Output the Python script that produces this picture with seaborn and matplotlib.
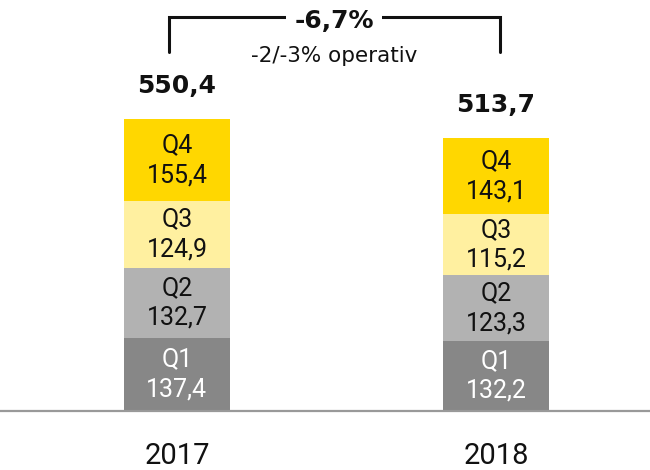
import numpy as np
import pandas as pd
import seaborn as sns
import matplotlib.pyplot as plt

# Data
years = ["2017", "2018"]
quarters = ["Q1", "Q2", "Q3", "Q4"]
q1 = [137.4, 132.2]
q2 = [132.7, 123.3]
q3 = [124.9, 115.2]
q4 = [155.4, 143.1]
totals = [550.4, 513.7]
change_note = "-2/-3% operativ"

colors = ["#878787", "#b2b2b2", "#fff0a0", "#ffd700"]
text_colors = ["white", "#111111", "#111111", "#111111"]

sns.set_theme(style="white")
plt.rcParams["font.family"] = ["Roboto", "DejaVu Sans"]
wide = ["DejaVu Sans"]

fig = plt.figure(figsize=(6.5, 4.7), dpi=100)
ax = fig.add_axes([0, 59 / 470, 1, 411 / 470])

def fmt(v):
    return f"{v:.1f}".replace(".", ",")

series = [q1, q2, q3, q4]
bottom = np.zeros(len(years))
for i, (q, vals) in enumerate(zip(quarters, series)):
    df = pd.DataFrame({"year": years, "value": vals})
    sns.barplot(data=df, x="year", y="value", color=colors[i], width=0.33,
                bottom=bottom, saturation=1, ax=ax, linewidth=0, errorbar=None)
    for j, v in enumerate(vals):
        ax.text(j, bottom[j] + v / 2, f"{q}\n{fmt(v)}", ha="center", va="center",
                fontsize=18, color=text_colors[i], linespacing=1.32)
    bottom = bottom + np.array(vals)

# totals above bars
for j, t in enumerate(totals):
    ax.annotate(fmt(t), xy=(j, t), xytext=(0, 19), textcoords="offset points",
                ha="center", va="baseline", fontsize=18, fontweight="bold",
                color="#111111", family=wide)

# bracket with change
pct = (totals[1] / totals[0] - 1) * 100
y_top = 742
y_low = 677
xl, xr = -0.025, 1.012
ax.plot([xl, xl, xr, xr], [y_low, y_top, y_top, y_low], color="#111111", lw=2.2,
        solid_joinstyle="miter", clip_on=False)
xm = (xl + xr) / 2
ax.text(xm, 722, fmt(pct) + "%", ha="center", va="baseline", fontsize=18,
        fontweight="bold", color="#111111", family=wide,
        bbox=dict(facecolor="white", edgecolor="none", pad=6))
ax.text(xm, 658, change_note, ha="center", va="baseline", fontsize=15.5,
        color="#111111", family=wide)

ax.set_xlim(-177 / 319, 1 + 154 / 319)
ax.set_ylim(0, 411 / 0.5305)
ax.set_xlabel("")
ax.set_ylabel("")
ax.set_yticks([])
ax.tick_params(axis="x", length=0, pad=22, labelsize=21, labelcolor="#111111")
for s in ["top", "left", "right"]:
    ax.spines[s].set_visible(False)
ax.spines["bottom"].set_color("#999999")
ax.spines["bottom"].set_linewidth(1.6)

fig.savefig("out.png", dpi=100, facecolor="white")
